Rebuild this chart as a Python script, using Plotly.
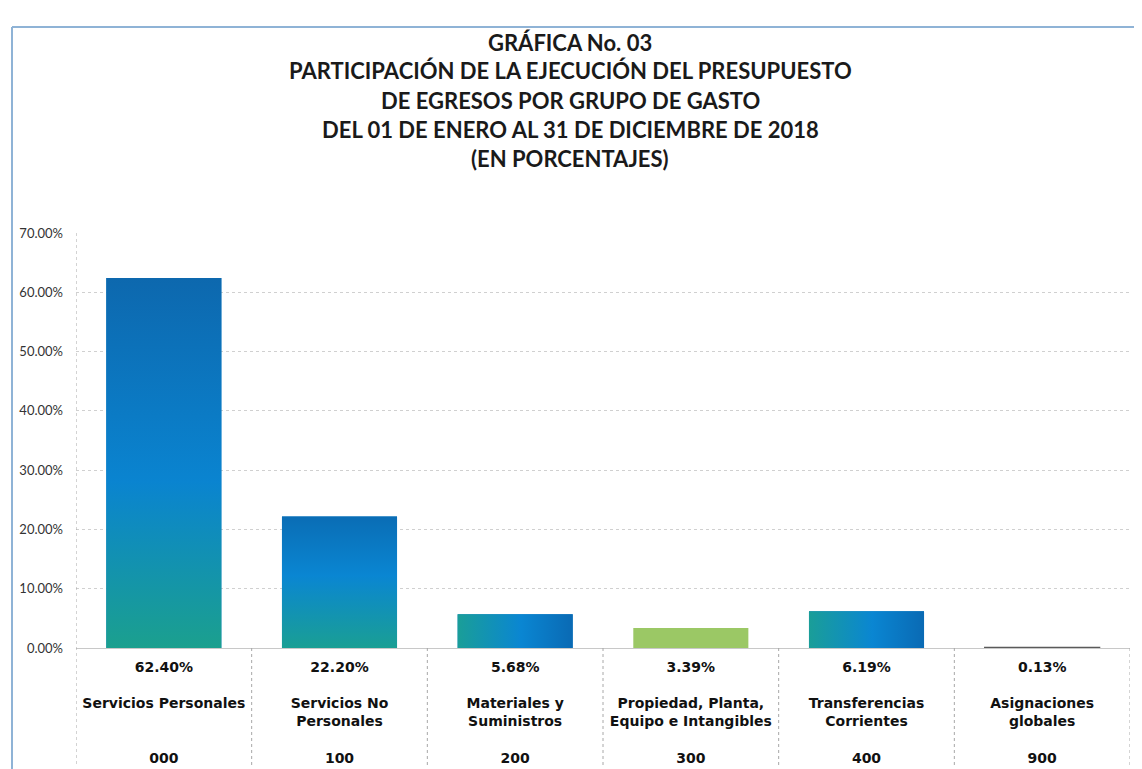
import plotly.graph_objects as go

# ---- data ----
title_lines = [
    "GRÁFICA No. 03",
    "PARTICIPACIÓN DE LA EJECUCIÓN DEL PRESUPUESTO",
    "DE EGRESOS POR GRUPO DE GASTO",
    "DEL 01 DE ENERO AL 31 DE DICIEMBRE DE 2018",
    "(EN PORCENTAJES)",
]
codes = ["000", "100", "200", "300", "400", "900"]
names = [
    ["Servicios Personales"],
    ["Servicios No", "Personales"],
    ["Materiales y", "Suministros"],
    ["Propiedad, Planta,", "Equipo e Intangibles"],
    ["Transferencias", "Corrientes"],
    ["Asignaciones", "globales"],
]
values = [62.40, 22.20, 5.68, 3.39, 6.19, 0.13]

# ---- styles ----
solid_colors = ["#0A7BC4", "#0A7BC4", "#0A7BC4", "#9BC865", "#0A7BC4", "#5A5A5A"]
outline_w = [0, 0, 0, 0, 0, 1.2]
gradients = [
    ("vertical", [[0, "#1BA08E"], [0.45, "#0A84D0"], [1, "#0D68AE"]]),
    ("vertical", [[0, "#1A9F94"], [0.55, "#0A86D2"], [1, "#0A6DB5"]]),
    ("horizontal", [[0, "#1A9E98"], [0.55, "#0A86D2"], [1, "#0A6AB4"]]),
    None,
    ("horizontal", [[0, "#1A9E98"], [0.55, "#0A86D2"], [1, "#0A6AB4"]]),
    None,
]
bar_width = 0.655

OFF = 8  # default page body margin
W, H = 1142 - OFF, 769 - OFF
L, R, T, B = 76 - OFF, 1130 - OFF, 233 - OFF, 648 - OFF


def px2x(px):
    return (px - OFF - L) / (R - L)


def py2y(py):
    return (B - (py - OFF)) / (B - T)


idx = list(range(len(values)))
ticktext = []
for v, n, c in zip(values, names, codes):
    n2 = n + [""] * (2 - len(n))
    ticktext.append(f"{v:.2f}%<br> <br>{n2[0]}<br>{n2[1] if n2[1] else ' '}<br> <br>{c}")

fig = go.Figure()
fig.add_trace(go.Bar(
    x=idx, y=values, width=bar_width,
    marker=dict(color=solid_colors, line=dict(width=outline_w, color="#5A5A5A")),
    hovertemplate="%{y:.2f}%<extra></extra>",
))

for i, (v, g) in enumerate(zip(values, gradients)):
    if g is None:
        continue
    x0, x1 = i - bar_width / 2, i + bar_width / 2
    fig.add_trace(go.Scatter(
        x=[x0, x1, x1, x0, x0], y=[0, 0, v, v, 0],
        mode="lines", line=dict(width=0), fill="toself",
        fillgradient=dict(type=g[0], colorscale=g[1]),
        hoverinfo="skip", showlegend=False,
    ))

# table separators
for k in range(len(values) + 1):
    fig.add_shape(type="line", xref="x", yref="paper",
                  x0=k - 0.5, x1=k - 0.5, y0=0 if k else 1, y1=py2y(766),
                  line=dict(color="#A8A8A8", width=1, dash="dot"))

# outer frame (blue)
fig.add_shape(type="line", xref="paper", yref="paper",
              x0=px2x(12), x1=px2x(12), y0=py2y(27), y1=py2y(780),
              line=dict(color="#8FB3D6", width=2))
fig.add_shape(type="line", xref="paper", yref="paper",
              x0=px2x(12), x1=px2x(1150), y0=py2y(27), y1=py2y(27),
              line=dict(color="#8FB3D6", width=2))

# title
title_y = [42, 71, 100, 129, 158]
for line, yy in zip(title_lines, title_y):
    fig.add_annotation(text=f"<b>{line}</b>", xref="paper", yref="paper",
                       x=px2x(570), y=py2y(yy), showarrow=False,
                       xanchor="center", yanchor="middle",
                       font=dict(family="Lato", size=22, color="#1a1a1a"))

fig.update_layout(
    width=W, height=H,
    margin=dict(l=L, r=W - R, t=T, b=H - B, autoexpand=False),
    paper_bgcolor="white", plot_bgcolor="white",
    showlegend=False,
)
fig.update_xaxes(
    range=[-0.5, len(values) - 0.5], tickmode="array", tickvals=idx,
    ticktext=ticktext, showgrid=False, zeroline=False,
    showline=True, linecolor="#C8C8C8", linewidth=1,
    ticks="", ticklabelstandoff=6,
    tickfont=dict(family="DejaVu Sans", size=14, color="#111111", weight="bold"),
)
fig.update_yaxes(
    range=[0, 70], dtick=10, tickformat=".2f", ticksuffix="%",
    showgrid=True, gridcolor="#D0D0D0", griddash="dot", gridwidth=1,
    zeroline=False, showline=False,
    ticks="", ticklabelstandoff=12,
    tickfont=dict(family="Lato", size=13, color="#333333"),
)

fig.write_html("out.html")
